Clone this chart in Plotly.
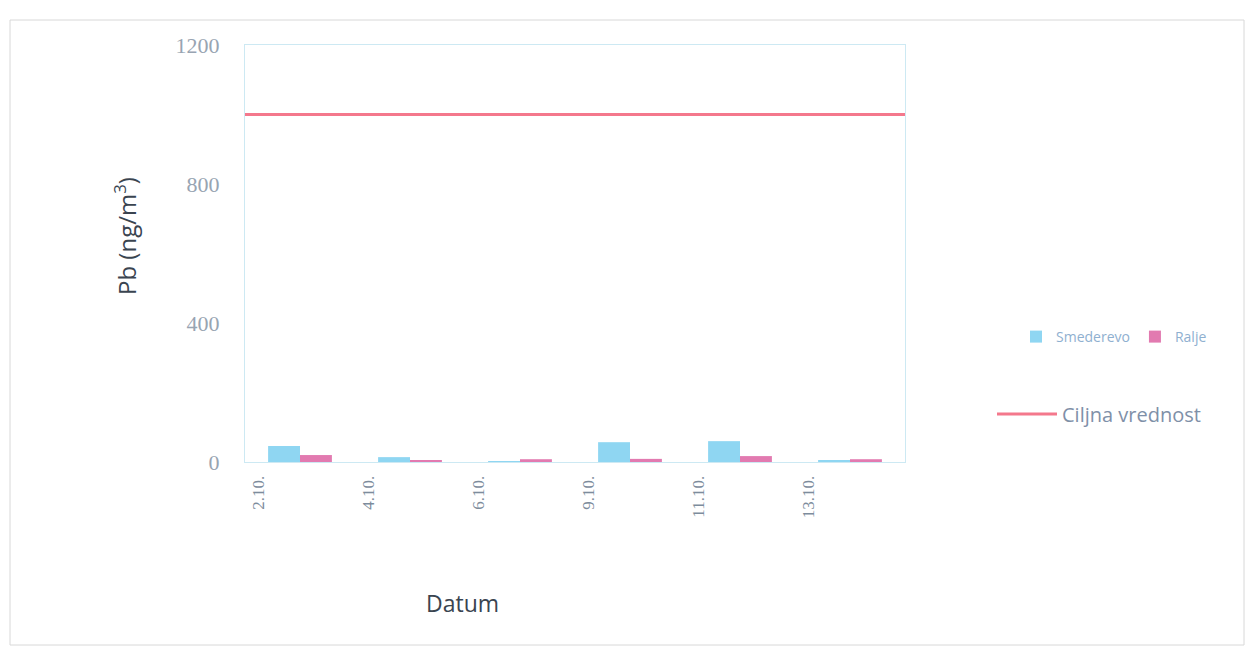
import plotly.graph_objects as go

categories = ["2.10.", "4.10.", "6.10.", "9.10.", "11.10.", "13.10."]
smederevo = [46, 14, 2, 57, 60, 5]
ralje = [20, 3, 8, 9, 17, 8]
target_value = 1000
y_ticks = [0, 400, 800, 1200]

OFF = 8  # default page body margin
W, H = 1253 - OFF, 656 - OFF
L, R, T, B = 245 - OFF, 905 - OFF, 45 - OFF, 462 - OFF

fig = go.Figure()
fig.add_trace(go.Bar(name="Smederevo", x=categories, y=smederevo,
                     marker=dict(color="#8fd6f2", line=dict(width=0)), legend="legend"))
fig.add_trace(go.Bar(name="Ralje", x=categories, y=ralje,
                     marker=dict(color="#e27ab0", line=dict(width=0)), legend="legend"))
fig.add_trace(go.Scatter(name="Ciljna vrednost", x=[0, 1], y=[target_value, target_value],
                         mode="lines", line=dict(color="#f4788c", width=3),
                         xaxis="x2", legend="legend2"))

def px_x(x):
    return (x - OFF - L) / (R - L)

def px_y(y):
    return (B - (y - OFF)) / (B - T)

title_font = dict(family="Open Sans", size=23, color="#3a4450")

fig.update_layout(
    width=W, height=H,
    margin=dict(l=L, r=W - R, t=T, b=H - B),
    paper_bgcolor="white", plot_bgcolor="white",
    barmode="group", bargap=0.42, bargroupgap=0,
    font=dict(family="Open Sans", color="#8a98a8"),
    xaxis=dict(type="category", tickangle=-90, showgrid=False, ticks="",
               showline=True, linecolor="#cde9f3", linewidth=1, mirror=True,
               ticklabelshift=-42, ticklabelstandoff=6,
               tickfont=dict(family="Liberation Serif", size=17, color="#7d8c9c")),
    xaxis2=dict(overlaying="x", range=[0, 1], visible=False, fixedrange=True),
    yaxis=dict(range=[0, 1200], tickvals=y_ticks, showgrid=False, zeroline=False,
               showline=True, linecolor="#cde9f3", linewidth=1, mirror=True, ticks="",
               ticklabelstandoff=20,
               tickfont=dict(family="Liberation Serif", size=22, color="#98a4b2")),
    legend=dict(orientation="h", x=px_x(1016), y=px_y(337), xanchor="left", yanchor="middle",
                font=dict(family="Open Sans", size=14, color="#8fb0d0"),
                itemwidth=30, bgcolor="rgba(0,0,0,0)", tracegroupgap=0),
    legend2=dict(x=px_x(992), y=px_y(414), xanchor="left", yanchor="middle",
                 font=dict(family="Open Sans", size=20, color="#7f90a8"),
                 itemwidth=60, bgcolor="rgba(0,0,0,0)"),
    showlegend=True,
    annotations=[
        dict(text="Datum", xref="paper", yref="paper", x=px_x(462), y=px_y(603),
             xanchor="center", yanchor="middle", showarrow=False, font=title_font),
        dict(text="Pb (ng/m<sup>3</sup>)", xref="paper", yref="paper", x=px_x(125), y=px_y(236),
             xanchor="center", yanchor="middle", showarrow=False, textangle=-90,
             font=dict(family="Open Sans", size=24, color="#3a4450")),
    ],
    shapes=[dict(type="rect", xref="paper", yref="paper",
                 x0=px_x(10), x1=px_x(1244), y0=px_y(645), y1=px_y(20),
                 line=dict(color="#d8d8d8", width=1), fillcolor="rgba(0,0,0,0)", layer="below")],
)

fig.write_html("out.html")
